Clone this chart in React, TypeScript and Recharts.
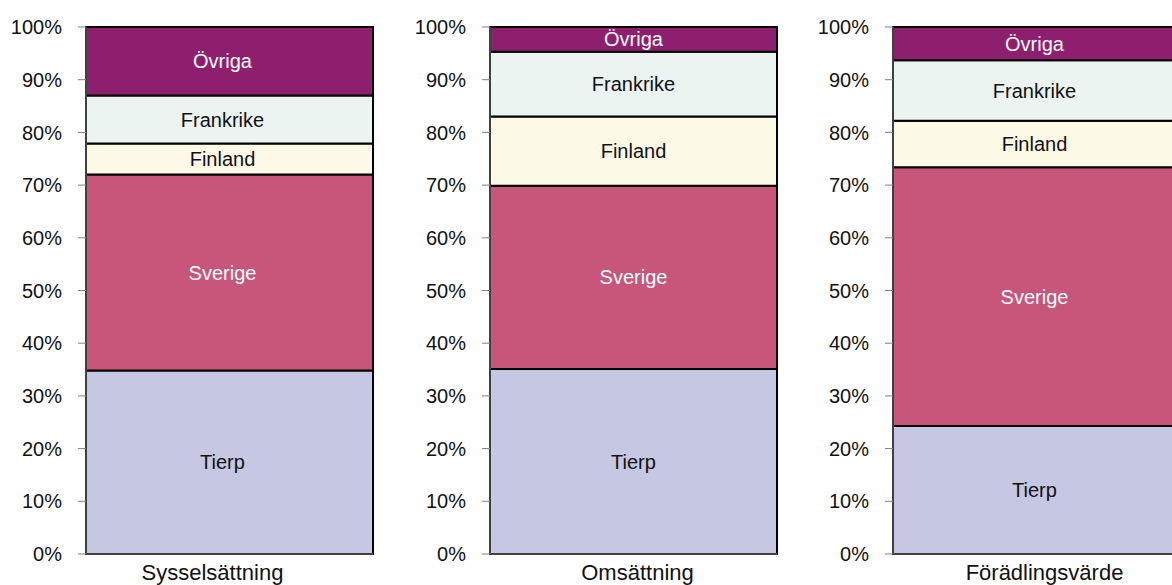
import React from 'react';
import { BarChart, Bar, XAxis, YAxis, LabelList } from 'recharts';

const categories = ['Sysselsättning', 'Omsättning', 'Förädlingsvärde'];
const tierp = [34.8, 35.1, 24.3];
const sverige = [37.2, 34.8, 49.1];
const finland = [5.9, 13.1, 8.8];
const frankrike = [9.1, 12.3, 11.5];
const ovriga = [13.0, 4.7, 6.3];
const yTicks = [0, 10, 20, 30, 40, 50, 60, 70, 80, 90, 100];

const FONT = '"Liberation Sans", Arial, sans-serif';

const series = [
  { key: 'Tierp', values: tierp, fill: '#C6C7E3', text: '#111' },
  { key: 'Sverige', values: sverige, fill: '#C8567A', text: '#fff' },
  { key: 'Finland', values: finland, fill: '#FDF9E7', text: '#111' },
  { key: 'Frankrike', values: frankrike, fill: '#EBF4F1', text: '#111' },
  { key: 'Övriga', values: ovriga, fill: '#8E1E6E', text: '#fff' },
];

// per-panel placement (left of chart, chart width, y-axis width, right margin, label nudges)
const panels = [
  { left: 0, width: 390, axisW: 86, right: 17, labelDx: -7, catDx: -17 },
  { left: 400, width: 400, axisW: 90, right: 23, labelDx: 0, catDx: 4 },
  { left: 800, width: 400, axisW: 93, right: 20, labelDx: -2, catDx: 8 },
];

function segLabel(name: string, color: string, dx: number) {
  return (p: any) => {
    const x = Number(p.x) + Number(p.width) / 2 + dx;
    const y = Number(p.y) + Number(p.height) / 2;
    return (
      <text x={x} y={y} dy="0.355em" textAnchor="middle" fill={color} fontSize={20} fontFamily={FONT}>
        {name}
      </text>
    );
  };
}

function Panel({ idx }: { idx: number }) {
  const cfg = panels[idx];
  const row: Record<string, any> = { name: categories[idx] };
  series.forEach((s) => {
    row[s.key] = s.values[idx];
  });
  return (
    <div style={{ position: 'absolute', left: cfg.left, top: 0 }}>
      <BarChart
        width={cfg.width}
        height={585}
        data={[row]}
        margin={{ top: 27, right: cfg.right, left: 0, bottom: 0 }}
        barCategoryGap={0}
        barGap={0}
      >
        <XAxis
          dataKey="name"
          height={31}
          axisLine={{ stroke: '#808080' }}
          tickLine={false}
          tickMargin={4}
          tick={{ fill: '#111', fontSize: 22, fontFamily: FONT, dx: cfg.catDx }}
        />
        <YAxis
          width={cfg.axisW}
          domain={[0, 100]}
          ticks={yTicks}
          interval={0}
          tickFormatter={(v) => `${v}%`}
          axisLine={{ stroke: '#808080' }}
          tickLine={{ stroke: '#808080' }}
          tickSize={8}
          tickMargin={16}
          tick={{ fill: '#111', fontSize: 20, fontFamily: FONT }}
        />
        {series.map((s) => (
          <Bar
            key={s.key}
            dataKey={s.key}
            stackId="a"
            fill={s.fill}
            stroke="#000"
            strokeWidth={2}
            isAnimationActive={false}
          >
            <LabelList dataKey={s.key} content={segLabel(s.key, s.text, cfg.labelDx)} />
          </Bar>
        ))}
      </BarChart>
    </div>
  );
}

export default function App() {
  return (
    <div
      style={{
        position: 'absolute',
        left: 0,
        top: 0,
        width: 1172,
        height: 585,
        overflow: 'hidden',
        background: '#fff',
      }}
    >
      {categories.map((_c, i) => (
        <Panel key={i} idx={i} />
      ))}
    </div>
  );
}
